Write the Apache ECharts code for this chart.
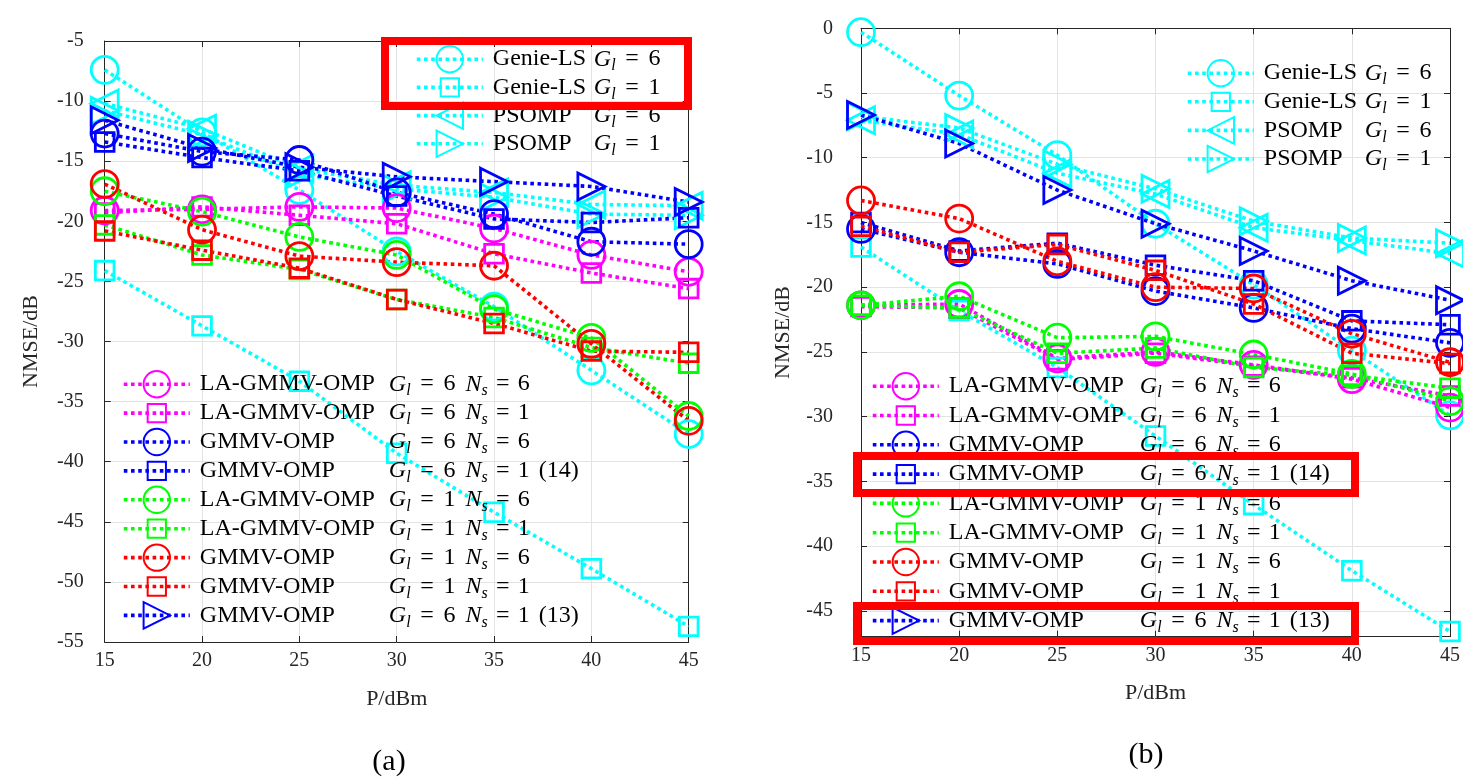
<!DOCTYPE html>
<html>
<head>
<meta charset="utf-8">
<title>NMSE vs P</title>
<script src="https://cdn.jsdelivr.net/npm/echarts@6/dist/echarts.min.js"></script>
<style type="text/css">
	html, body { margin: 0; padding: 0; background: #fff; }
	div#main { width: 1463px; height: 780px; }
</style>
</head>
<body>
<div id="main"></div>
<script type="text/javascript">
var power = [15, 20, 25, 30, 35, 40, 45];
var yTicksA = [-55, -50, -45, -40, -35, -30, -25, -20, -15, -10, -5];
var yTicksB = [-45, -40, -35, -30, -25, -20, -15, -10, -5, 0];

// legend pieces, same order as the series
var methods = ['Genie-LS', 'Genie-LS', 'PSOMP', 'PSOMP',
	'LA-GMMV-OMP', 'LA-GMMV-OMP', 'GMMV-OMP', 'GMMV-OMP',
	'LA-GMMV-OMP', 'LA-GMMV-OMP', 'GMMV-OMP', 'GMMV-OMP', 'GMMV-OMP'];
var glVals = [6, 1, 6, 1, 6, 6, 6, 6, 1, 1, 1, 1, 6];
var nsVals = [null, null, null, null, 6, 1, 6, 1, 6, 1, 6, 1, 1];
var tags = ['', '', '', '', '', '', '', '(14)', '', '', '', '', '(13)'];

// panel (a)
var aGenie6 = [-7.4, -12.6, -17.4, -22.5, -27.1, -32.4, -37.7];
var aGenie1 = [-24.1, -28.7, -33.3, -39.3, -44.2, -48.9, -53.7];
var aPso6 = [-10.2, -12.3, -15.6, -17.0, -17.6, -18.6, -18.7];
var aPso1 = [-10.8, -12.8, -16.1, -17.3, -18.0, -19.4, -19.5];
var aLa66 = [-19.1, -19.0, -18.8, -18.9, -20.6, -22.8, -24.2];
var aLa61 = [-19.3, -18.8, -19.5, -20.2, -22.7, -24.3, -25.6];
var aGm66 = [-12.7, -14.2, -14.9, -17.6, -19.4, -21.7, -21.9];
var aGm61 = [-13.4, -14.7, -15.8, -17.9, -19.8, -20.1, -19.7];
var aLa16 = [-17.5, -19.2, -21.3, -22.8, -27.3, -29.7, -36.2];
var aLa11 = [-20.3, -22.8, -24.0, -26.5, -28.0, -30.5, -31.8];
var aGm16 = [-16.9, -20.7, -22.9, -23.4, -23.7, -30.2, -36.6];
var aGm11 = [-20.8, -22.4, -23.9, -26.5, -28.5, -30.8, -30.9];
var aGm61b = [-11.6, -13.9, -15.5, -16.3, -16.7, -17.1, -18.4];

// panel (b)
var bGenie6 = [-0.3, -5.2, -9.8, -15.1, -19.8, -24.9, -29.9];
var bGenie1 = [-16.9, -21.8, -26.2, -31.5, -36.8, -41.9, -46.6];
var bPso6 = [-7.1, -8.2, -11.2, -12.8, -15.4, -16.4, -17.4];
var bPso1 = [-6.8, -7.7, -10.5, -12.4, -14.9, -16.2, -16.6];
var bLa66 = [-21.4, -21.3, -25.5, -25.0, -26.0, -27.1, -29.3];
var bLa61 = [-21.5, -21.6, -25.6, -25.1, -26.1, -27.0, -28.4];
var bGm66 = [-15.5, -17.3, -18.2, -20.3, -21.6, -23.2, -24.3];
var bGm61 = [-15.0, -17.2, -16.6, -18.3, -19.5, -22.6, -22.9];
var bLa16 = [-21.4, -20.7, -23.9, -23.8, -25.2, -26.7, -28.8];
var bLa11 = [-21.4, -21.6, -25.1, -24.7, -26.2, -26.8, -27.8];
var bGm16 = [-13.3, -14.7, -18.0, -20.0, -20.1, -23.6, -25.8];
var bGm11 = [-15.3, -17.3, -16.7, -18.7, -21.3, -25.1, -25.9];
var bGm61b = [-6.7, -8.9, -12.5, -15.1, -17.2, -19.5, -21.0];

var panelA = [aGenie6, aGenie1, aPso6, aPso1, aLa66, aLa61, aGm66, aGm61, aLa16, aLa11, aGm16, aGm11, aGm61b];
var panelB = [bGenie6, bGenie1, bPso6, bPso1, bLa66, bLa61, bGm66, bGm61, bLa16, bLa11, bGm16, bGm11, bGm61b];

var SERIF = 'Liberation Serif';
var AXIS = '#262626';
var LW = 3.6;
var CIRC = 'circle';
var SQ = 'path://M0,0M26,26M4,4H22V22H4Z';
var TRI_L = 'path://M26,0L0,13L26,26Z';
var TRI_R = 'path://M0,0L26,13L0,26Z';
var colors = ['#00ffff', '#00ffff', '#00ffff', '#00ffff', '#ff00ff', '#ff00ff', '#0000ff', '#0000ff',
	'#00ff00', '#00ff00', '#ff0000', '#ff0000', '#0000ff'];
var symbols = [CIRC, SQ, TRI_L, TRI_R, CIRC, SQ, CIRC, SQ, CIRC, SQ, CIRC, SQ, TRI_R];

var names = methods.map(function (m, i) {
	return m + ' G' + glVals[i] + (nsVals[i] ? ' Ns' + nsVals[i] : '') + (tags[i] ? ' ' + tags[i] : '');
});
var topNames = names.slice(0, 4);
var botNames = names.slice(4);

function fmt(name) {
	var i = names.indexOf(name);
	var s = '{n|' + methods[i] + '}{g|G}{l|l}{e|=}{v|' + glVals[i] + '}';
	if (nsVals[i]) s += '{g2|N}{l|s}{e2|=}{v|' + nsVals[i] + '}';
	if (tags[i]) s += '{t|' + tags[i] + '}';
	return s;
}

function rich(w) {
	return {
		n: { fontFamily: SERIF, fontSize: 24, width: w, padding: [0, 0, 0, 5], lineHeight: 30 },
		g: { fontFamily: SERIF, fontStyle: 'italic', fontSize: 24, lineHeight: 30 },
		g2: { fontFamily: SERIF, fontStyle: 'italic', fontSize: 24, lineHeight: 30, padding: [0, 0, 0, 10] },
		l: { fontFamily: SERIF, fontStyle: 'italic', fontSize: 16, lineHeight: 13, verticalAlign: 'bottom' },
		e: { fontFamily: SERIF, fontSize: 24, lineHeight: 30, width: 33, align: 'center' },
		e2: { fontFamily: SERIF, fontSize: 24, lineHeight: 30, width: 30, align: 'center' },
		v: { fontFamily: SERIF, fontSize: 24, lineHeight: 30 },
		t: { fontFamily: SERIF, fontSize: 24, lineHeight: 30, padding: [0, 0, 0, 9] }
	};
}

function legend(data, left, top, gap, w) {
	return {
		orient: 'vertical', left: left, top: top, padding: 0,
		itemWidth: 66, itemHeight: 33, itemGap: gap,
		selectedMode: false, data: data, formatter: fmt,
		lineStyle: { width: LW, type: [LW, LW] },
		textStyle: { color: '#000', fontFamily: SERIF, fontSize: 24, rich: rich(w) }
	};
}

function xAxis(grid, pos) {
	var main = pos === 'bottom';
	return {
		type: 'value', gridIndex: grid, position: pos, min: 15, max: 45, interval: 5,
		axisLine: { show: true, onZero: false, lineStyle: { color: AXIS, width: 1 } },
		axisTick: { show: true, inside: true, length: 6, lineStyle: { color: AXIS } },
		axisLabel: { show: main, color: AXIS, fontFamily: SERIF, fontSize: 20, margin: 9 },
		splitLine: { show: main, lineStyle: { color: '#e3e3e3' } },
		name: main ? 'P/dBm' : '', nameLocation: 'middle', nameGap: 46,
		nameTextStyle: { color: AXIS, fontFamily: SERIF, fontSize: 22 }
	};
}

function yAxis(grid, pos, ticks, labelGap, nameGap) {
	var main = pos === 'left';
	return {
		type: 'value', gridIndex: grid, position: pos,
		min: grid === 0 ? -55 : -47, max: grid === 0 ? -5 : 0,
		axisLine: { show: true, onZero: false, lineStyle: { color: AXIS, width: 1 } },
		axisTick: { show: true, inside: true, length: 6, lineStyle: { color: AXIS }, customValues: ticks },
		axisLabel: { show: main, color: AXIS, fontFamily: SERIF, fontSize: 20, margin: labelGap, customValues: ticks },
		splitLine: { show: main, lineStyle: { color: '#e3e3e3' } },
		name: main ? 'NMSE/dB' : '', nameLocation: 'middle', nameRotate: 90, nameGap: nameGap,
		nameTextStyle: { color: AXIS, fontFamily: SERIF, fontSize: 22 }
	};
}

var series = [];
[panelA, panelB].forEach(function (panel, p) {
	panel.forEach(function (vals, i) {
		series.push({
			name: names[i], type: 'line', xAxisIndex: p * 2, yAxisIndex: p * 2,
			data: power.map(function (x, k) { return [x, vals[k]]; }),
			symbol: symbols[i], symbolSize: 27, showSymbol: true,
			lineStyle: { color: colors[i], width: LW, type: [LW, LW] },
			itemStyle: { color: 'none', borderColor: colors[i], borderWidth: 2.8 },
			emphasis: { disabled: true }
		});
	});
});

var myChart = echarts.init(document.getElementById('main'));
var option = {
	animation: false,
	backgroundColor: '#fff',
	grid: [
		{ left: 104.7, top: 41, width: 584, height: 601 },
		{ left: 861, top: 28.3, width: 591.7, height: 608.4 }
	],
	xAxis: [xAxis(0, 'bottom'), xAxis(0, 'top'), xAxis(1, 'bottom'), xAxis(1, 'top')],
	yAxis: [
		yAxis(0, 'left', yTicksA, 21, 62),
		yAxis(0, 'right', yTicksA, 8, 0),
		yAxis(1, 'left', yTicksB, 28, 67),
		yAxis(1, 'right', yTicksB, 8, 0)
	],
	legend: [
		legend(topNames, 415, 43.5, -3.2, 101),
		legend(botNames, 122, 368.5, -2.5, 189),
		legend(topNames, 1186, 57.5, -2.8, 101),
		legend(botNames, 871, 370.5, -2.1, 191)
	],
	series: series,
	graphic: [
		{ type: 'rect', shape: { x: 385, y: 41, width: 303, height: 65 }, style: { fill: 'none', stroke: '#ff0000', lineWidth: 8 }, z: 100 },
		{ type: 'rect', shape: { x: 857, y: 456, width: 498, height: 37 }, style: { fill: 'none', stroke: '#ff0000', lineWidth: 8 }, z: 100 },
		{ type: 'rect', shape: { x: 857, y: 606, width: 498, height: 35 }, style: { fill: 'none', stroke: '#ff0000', lineWidth: 8 }, z: 100 },
		{ type: 'text', x: 389, y: 762, style: { text: '(a)', font: '30px "Liberation Serif"', fill: '#000', align: 'center', verticalAlign: 'middle' } },
		{ type: 'text', x: 1146, y: 755, style: { text: '(b)', font: '30px "Liberation Serif"', fill: '#000', align: 'center', verticalAlign: 'middle' } }
	]
};
myChart.setOption(option);
</script>
</body>
</html>
